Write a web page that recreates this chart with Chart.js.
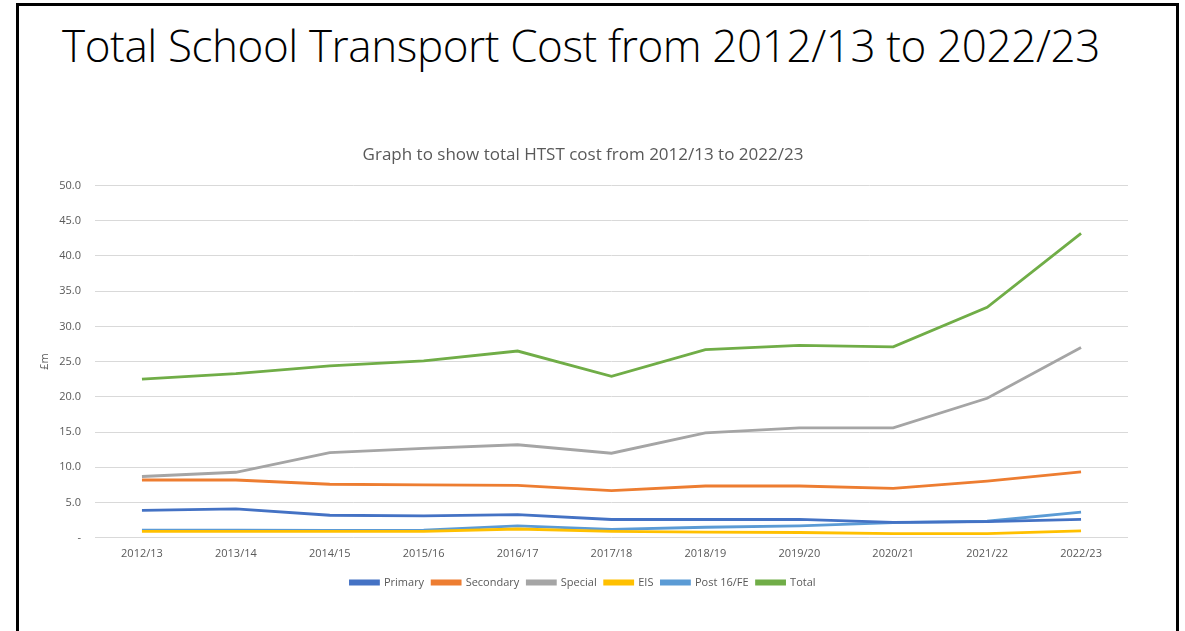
<!DOCTYPE html>
<html>
<head>
<meta charset="utf-8">
<script src="https://cdn.jsdelivr.net/npm/chart.js@4"></script>
<style>
  html, body { margin: 0; padding: 0; background: #fff; }
  body { width: 1185px; height: 631px; overflow: hidden; position: relative; }
  .slide {
    position: absolute; left: 16px; top: 3px; width: 1163px; height: 640px;
    border: 3px solid #000; box-sizing: border-box;
  }
  h1 {
    position: absolute; left: 62px; top: 15px; margin: 0;
    font-family: "Open Sans", sans-serif; font-weight: 300; font-size: 44px;
    color: #000; white-space: nowrap; letter-spacing: -0.4px;
  }
  #chart { position: absolute; left: 20px; top: 140px; }
</style>
</head>
<body>
<div class="slide"></div>
<h1>Total School Transport Cost from 2012/13 to 2022/23</h1>
<canvas id="chart" width="1150" height="458"></canvas>
<script>
const years = ['2012/13', '2013/14', '2014/15', '2015/16', '2016/17', '2017/18', '2018/19', '2019/20', '2020/21', '2021/22', '2022/23'];
const primary   = [3.9, 4.1, 3.2, 3.1, 3.3, 2.6, 2.6, 2.6, 2.2, 2.3, 2.6];
const secondary = [8.2, 8.2, 7.6, 7.5, 7.45, 6.7, 7.35, 7.35, 7.0, 8.05, 9.35];
const special   = [8.7, 9.3, 12.1, 12.7, 13.2, 12.0, 14.9, 15.6, 15.6, 19.8, 27.0];
const eis       = [0.9, 0.9, 0.9, 0.9, 1.25, 0.9, 0.8, 0.75, 0.6, 0.6, 0.97];
const post16    = [1.1, 1.1, 1.05, 1.1, 1.7, 1.2, 1.5, 1.7, 2.15, 2.35, 3.65];
const total     = [22.5, 23.3, 24.4, 25.1, 26.5, 22.9, 26.7, 27.3, 27.1, 32.7, 43.2];

const grey = '#595959';
const font = { family: '"Open Sans", sans-serif', size: 11 };

function series(label, data, color) {
    return {
        label: label,
        data: data,
        borderColor: color,
        backgroundColor: color,
        borderWidth: 2.8,
        pointRadius: 0,
        tension: 0,
    };
}

new Chart(document.getElementById('chart').getContext('2d'), {
    type: 'line',
    data: {
        labels: years,
        datasets: [
            series('Primary', primary, '#4472C4'),
            series('Secondary', secondary, '#ED7D31'),
            series('Special', special, '#A5A5A5'),
            series('EIS', eis, '#FFC000'),
            series('Post 16/FE', post16, '#5B9BD5'),
            series('Total', total, '#70AD47'),
        ],
    },
    options: {
        responsive: false,
        animation: false,
        layout: { padding: { left: 18, right: 42, top: 4, bottom: 0 } },
        plugins: {
            title: {
                display: true,
                text: 'Graph to show total HTST cost from 2012/13 to 2022/23',
                color: grey,
                font: { family: '"Open Sans", sans-serif', size: 17, weight: 'normal' },
                padding: { top: 1, bottom: 20 },
            },
            legend: {
                position: 'bottom',
                labels: {
                    color: grey,
                    font: font,
                    boxWidth: 28,
                    boxHeight: 3,
                    padding: 8,
                },
            },
            tooltip: { enabled: false },
        },
        scales: {
            x: {
                offset: true,
                grid: { display: false, drawTicks: false },
                border: { display: false },
                ticks: { color: grey, font: font, padding: 9, maxRotation: 0 },
            },
            y: {
                min: 0,
                max: 50,
                grid: { color: '#D9D9D9', drawTicks: false },
                border: { display: false },
                afterFit: scale => { scale.width = 57; },
                ticks: {
                    stepSize: 5,
                    color: grey,
                    font: font,
                    padding: 14,
                    callback: v => v === 0 ? '-' : v.toFixed(1),
                },
                title: {
                    display: true,
                    text: '£m',
                    color: grey,
                    font: font,
                    padding: { top: 0, bottom: 8 },
                },
            },
        },
    },
});
</script>
</body>
</html>
